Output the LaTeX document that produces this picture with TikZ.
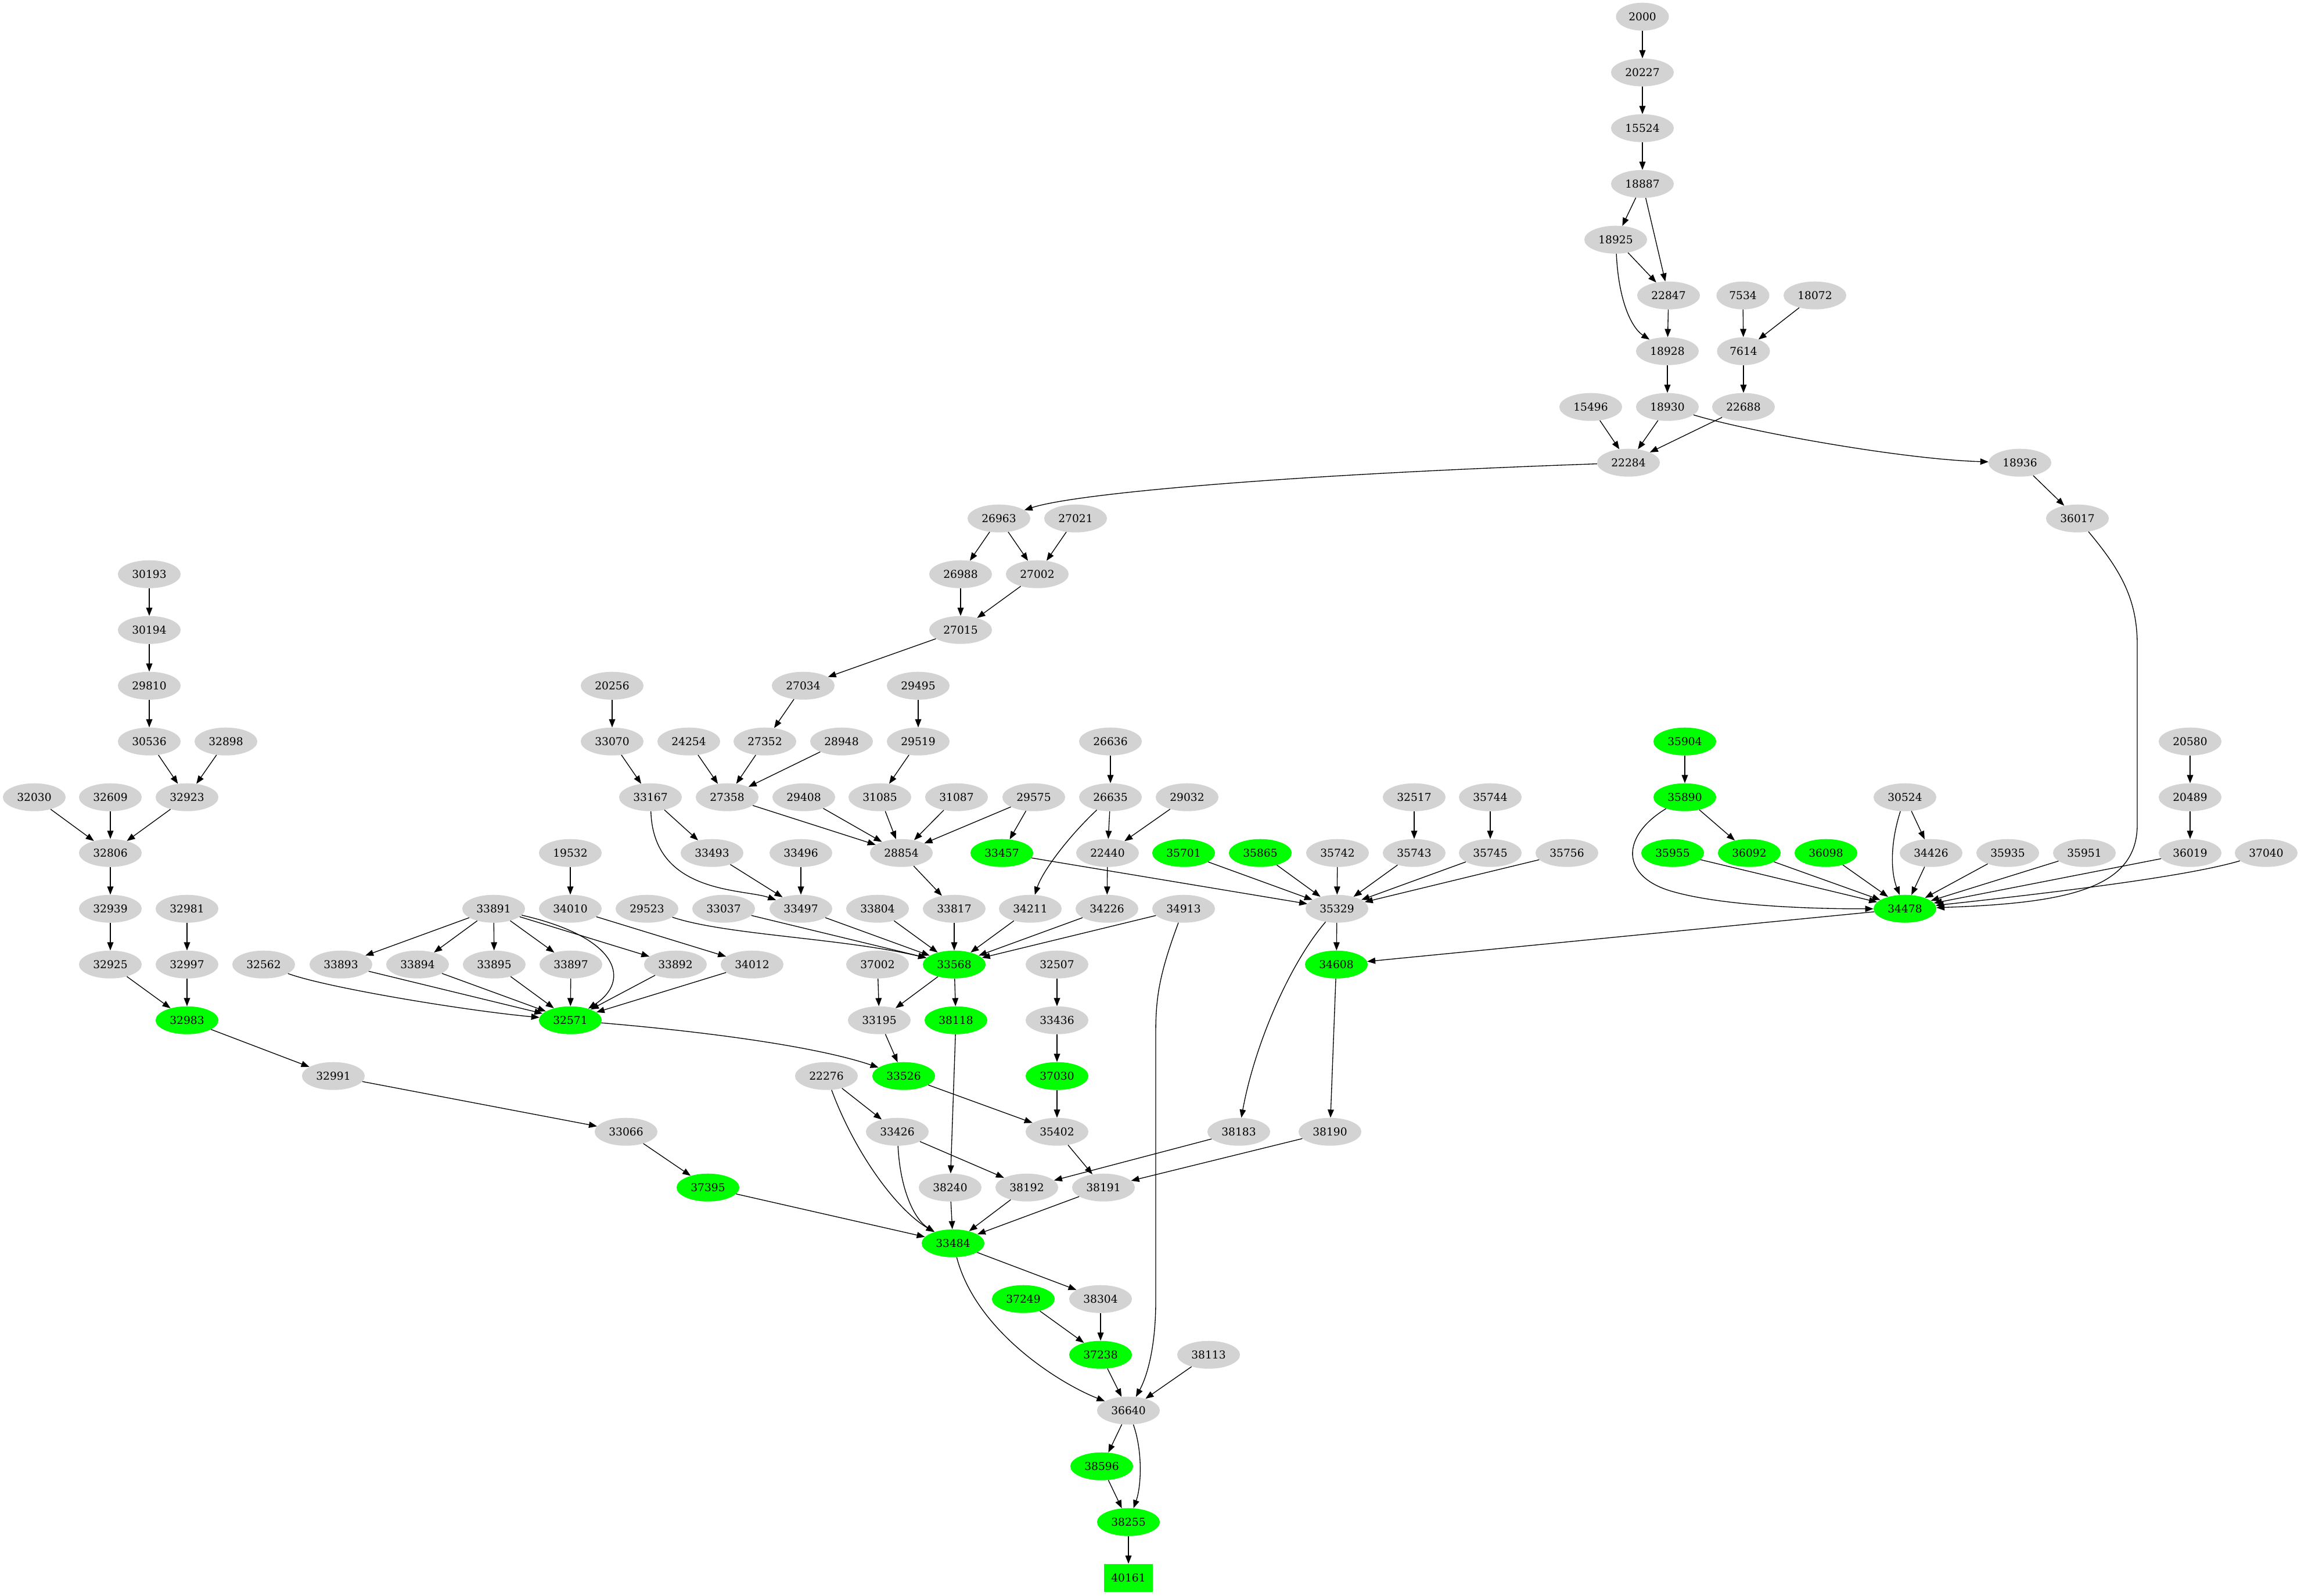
\documentclass[tikz,border=0pt]{standalone}
\usepackage{fontspec}
\setmainfont{DejaVu Serif}
\usetikzlibrary{shapes.geometric,arrows.meta}
\definecolor{nodegray}{HTML}{D3D3D3}
\definecolor{hitgreen}{HTML}{00FF00}
\tikzset{
  gnode/.style = {shape=ellipse, fill=nodegray, inner xsep=6.4pt, inner ysep=2pt,
                  minimum height=36pt, font=\fontsize{14pt}{16pt}\selectfont},
  hit/.style   = {gnode, fill=hitgreen},
  goal/.style  = {shape=rectangle, fill=hitgreen, minimum width=63pt,
                  minimum height=36pt, font=\fontsize{14pt}{16pt}\selectfont},
  dep/.style   = {-{Triangle[length=10.5pt,width=8pt]}, line width=1pt}
}

\begin{document}
\begin{tikzpicture}
 [x=0.75pt, y=-72pt]
  \useasboundingbox (0,-0.299) rectangle (3962,28.316);

  \node [gnode] (n2000) at (2828,0) {2000};
  \node [gnode] (n20227) at (2828,1) {20227};
  \node [gnode] (n15524) at (2828,2) {15524};
  \node [gnode] (n18887) at (2828,3) {18887};
  \node [gnode] (n18925) at (2782,4) {18925};
  \node [gnode] (n22847) at (2873,5) {22847};
  \node [gnode] (n7534) at (3001,5) {7534};
  \node [gnode] (n18072) at (3125,5) {18072};
  \node [gnode] (n18928) at (2871,6) {18928};
  \node [gnode] (n7614) at (3002,6) {7614};
  \node [gnode] (n15496) at (2739,7) {15496};
  \node [gnode] (n18930) at (2871,7) {18930};
  \node [gnode] (n22688) at (3002,7) {22688};
  \node [gnode] (n22284) at (2804,8) {22284};
  \node [gnode] (n18936) at (3478,8) {18936};
  \node [gnode] (n26963) at (1720,9) {26963};
  \node [gnode] (n27021) at (1852,9) {27021};
  \node [gnode] (n36017) at (3577,9) {36017};
  \node [gnode] (n30193) at (257,10) {30193};
  \node [gnode] (n26988) at (1654,10) {26988};
  \node [gnode] (n27002) at (1786,10) {27002};
  \node [gnode] (n30194) at (257,11) {30194};
  \node [gnode] (n27015) at (1654,11) {27015};
  \node [gnode] (n29810) at (257,12) {29810};
  \node [gnode] (n20256) at (1054,12) {20256};
  \node [gnode] (n27034) at (1383,12) {27034};
  \node [gnode] (n29495) at (1581,12) {29495};
  \node [gnode] (n30536) at (257,13) {30536};
  \node [gnode] (n32898) at (389,13) {32898};
  \node [gnode] (n33070) at (1054,13) {33070};
  \node [gnode] (n24254) at (1186,13) {24254};
  \node [gnode] (n27352) at (1317,13) {27352};
  \node [gnode] (n28948) at (1449,13) {28948};
  \node [gnode] (n29519) at (1581,13) {29519};
  \node [gnode] (n26636) at (1912,13) {26636};
  \node [hit]   (n35904) at (2901,13) {35904};
  \node [gnode] (n20580) at (3771,13) {20580};
  \node [gnode] (n32030) at (59,14) {32030};
  \node [gnode] (n32609) at (190,14) {32609};
  \node [gnode] (n32923) at (322,14) {32923};
  \node [gnode] (n33167) at (1120,14) {33167};
  \node [gnode] (n27358) at (1252,14) {27358};
  \node [gnode] (n29408) at (1384,14) {29408};
  \node [gnode] (n31085) at (1515,14) {31085};
  \node [gnode] (n31087) at (1647,14) {31087};
  \node [gnode] (n29575) at (1780,14) {29575};
  \node [gnode] (n26635) at (1912,14) {26635};
  \node [gnode] (n29032) at (2044,14) {29032};
  \node [gnode] (n32517) at (2435,14) {32517};
  \node [gnode] (n35744) at (2566,14) {35744};
  \node [hit]   (n35890) at (2901,14) {35890};
  \node [gnode] (n30524) at (3280,14) {30524};
  \node [gnode] (n20489) at (3771,14) {20489};
  \node [gnode] (n32806) at (190,15) {32806};
  \node [gnode] (n19532) at (982,15) {19532};
  \node [gnode] (n33493) at (1226,15) {33493};
  \node [gnode] (n33496) at (1379,15) {33496};
  \node [gnode] (n28854) at (1552,15) {28854};
  \node [hit]   (n33457) at (1725,15) {33457};
  \node [gnode] (n22440) at (1907,15) {22440};
  \node [hit]   (n35701) at (2038,15) {35701};
  \node [hit]   (n35865) at (2170,15) {35865};
  \node [gnode] (n35742) at (2303,15) {35742};
  \node [gnode] (n35743) at (2435,15) {35743};
  \node [gnode] (n35745) at (2566,15) {35745};
  \node [gnode] (n35756) at (2698,15) {35756};
  \node [hit]   (n35955) at (2880,15) {35955};
  \node [hit]   (n36092) at (3012,15) {36092};
  \node [hit]   (n36098) at (3144,15) {36098};
  \node [gnode] (n34426) at (3325,15) {34426};
  \node [gnode] (n35935) at (3457,15) {35935};
  \node [gnode] (n35951) at (3589,15) {35951};
  \node [gnode] (n36019) at (3771,15) {36019};
  \node [gnode] (n37040) at (3902,15) {37040};
  \node [gnode] (n32939) at (190,16) {32939};
  \node [gnode] (n32981) at (322,16) {32981};
  \node [gnode] (n33891) at (850,16) {33891};
  \node [gnode] (n34010) at (982,16) {34010};
  \node [gnode] (n29523) at (1114,16) {29523};
  \node [gnode] (n33037) at (1246,16) {33037};
  \node [gnode] (n33497) at (1379,16) {33497};
  \node [gnode] (n33804) at (1511,16) {33804};
  \node [gnode] (n33817) at (1643,16) {33817};
  \node [gnode] (n34211) at (1774,16) {34211};
  \node [gnode] (n34226) at (1906,16) {34226};
  \node [gnode] (n34913) at (2038,16) {34913};
  \node [gnode] (n35329) at (2302,16) {35329};
  \node [hit]   (n34478) at (3280,16) {34478};
  \node [gnode] (n32925) at (190,17) {32925};
  \node [gnode] (n32997) at (322,17) {32997};
  \node [gnode] (n32562) at (454,17) {32562};
  \node [gnode] (n33893) at (587,17) {33893};
  \node [gnode] (n33894) at (719,17) {33894};
  \node [gnode] (n33895) at (851,17) {33895};
  \node [gnode] (n33897) at (983,17) {33897};
  \node [gnode] (n33892) at (1163,17) {33892};
  \node [gnode] (n34012) at (1295,17) {34012};
  \node [gnode] (n37002) at (1511,17) {37002};
  \node [hit]   (n33568) at (1643,17) {33568};
  \node [gnode] (n32507) at (1820,17) {32507};
  \node [hit]   (n34608) at (2301,17) {34608};
  \node [hit]   (n32983) at (322,18) {32983};
  \node [hit]   (n32571) at (982,18) {32571};
  \node [gnode] (n33195) at (1514,18) {33195};
  \node [hit]   (n38118) at (1646,18) {38118};
  \node [gnode] (n33436) at (1820,18) {33436};
  \node [gnode] (n32991) at (574,19) {32991};
  \node [gnode] (n22276) at (1423,19) {22276};
  \node [hit]   (n33526) at (1556,19) {33526};
  \node [hit]   (n37030) at (1820,19) {37030};
  \node [gnode] (n33066) at (1078,20) {33066};
  \node [gnode] (n33426) at (1545,20) {33426};
  \node [gnode] (n35402) at (1820,20) {35402};
  \node [gnode] (n38183) at (2133,20) {38183};
  \node [gnode] (n38190) at (2290,20) {38190};
  \node [hit]   (n37395) at (1219,21) {37395};
  \node [gnode] (n38240) at (1636,21) {38240};
  \node [gnode] (n38192) at (1768,21) {38192};
  \node [gnode] (n38191) at (1900,21) {38191};
  \node [hit]   (n33484) at (1641,22) {33484};
  \node [hit]   (n37249) at (1762,23) {37249};
  \node [gnode] (n38304) at (1895,23) {38304};
  \node [hit]   (n37238) at (1895,24) {37238};
  \node [gnode] (n38113) at (2081,24) {38113};
  \node [gnode] (n36640) at (1943,25) {36640};
  \node [hit]   (n38596) at (1897,26) {38596};
  \node [hit]   (n38255) at (1943,27) {38255};
  \node [goal]  (n40161) at (1943,28) {40161};

  \path [dep] (n2000) edge (n20227) (n20227) edge (n15524) (n15524) edge (n18887)
    (n18887) edge (n18925) edge (n22847) (n18925) edge (n22847) (n22847) edge (n18928)
    (n7534) edge (n7614) (n18072) edge (n7614) (n18928) edge (n18930) (n7614) edge (n22688)
    (n15496) edge (n22284) (n18930) edge (n22284) (n22688) edge (n22284)
    (n18936) edge (n36017);
  \path [dep] (n26963) edge (n26988) edge (n27002) (n27021) edge (n27002)
    (n26988) edge (n27015) (n27002) edge (n27015) (n27015) edge (n27034)
    (n27034) edge (n27352) (n27352) edge (n27358) (n24254) edge (n27358) (n28948) edge (n27358)
    (n20256) edge (n33070) (n33070) edge (n33167) (n29495) edge (n29519) (n29519) edge (n31085)
    (n26636) edge (n26635);
  \path [dep] (n30193) edge (n30194) (n30194) edge (n29810) (n29810) edge (n30536)
    (n30536) edge (n32923) (n32898) edge (n32923)
    (n32030) edge (n32806) (n32609) edge (n32806) (n32923) edge (n32806)
    (n32806) edge (n32939) (n32939) edge (n32925) (n32981) edge (n32997)
    (n32925) edge (n32983) (n32997) edge (n32983) (n32983) edge (n32991)
    (n32991) edge (n33066) (n33066) edge (n37395) (n37395) edge (n33484);
  \path [dep] (n27358) edge (n28854) (n29408) edge (n28854) (n31085) edge (n28854)
    (n31087) edge (n28854) (n29575) edge (n28854) edge (n33457)
    (n26635) edge (n22440) (n29032) edge (n22440)
    (n33167) edge (n33493) (n33493) edge (n33497) (n33496) edge (n33497)
    (n28854) edge (n33817) (n22440) edge (n34226);
  \path [dep] (n33457) edge (n35329) (n35701) edge (n35329) (n35865) edge (n35329)
    (n35742) edge (n35329) (n35743) edge (n35329) (n35745) edge (n35329) (n35756) edge (n35329)
    (n32517) edge (n35743) (n35744) edge (n35745);
  \path [dep] (n35904) edge (n35890) (n35890) edge (n36092)
    (n35955) edge (n34478) (n36092) edge (n34478) (n36098) edge (n34478)
    (n30524) edge (n34426) (n34426) edge (n34478) (n35935) edge (n34478)
    (n35951) edge (n34478) (n36019) edge (n34478)
    (n20580) edge (n20489) (n20489) edge (n36019) (n34478) edge (n34608);
  \path [dep] (n19532) edge (n34010) (n34010) edge (n34012)
    (n33891) edge (n33893) edge (n33894) edge (n33895) edge (n33897) edge (n33892)
    (n33893) edge (n32571) (n33894) edge (n32571) (n33895) edge (n32571)
    (n33897) edge (n32571) (n33892) edge (n32571) (n34012) edge (n32571);
  \path [dep] (n33037) edge (n33568) (n33497) edge (n33568) (n33804) edge (n33568)
    (n33817) edge (n33568) (n34211) edge (n33568) (n34226) edge (n33568) (n34913) edge (n33568)
    (n35329) edge (n34608) (n34608) edge (n38190)
    (n37002) edge (n33195) (n33568) edge (n33195) edge (n38118)
    (n32507) edge (n33436) (n33436) edge (n37030) (n37030) edge (n35402)
    (n33195) edge (n33526) (n33526) edge (n35402);
  \path [dep] (n22276) edge (n33426) (n33426) edge (n38192) (n38118) edge (n38240)
    (n38183) edge (n38192) (n35402) edge (n38191) (n38190) edge (n38191)
    (n38240) edge (n33484) (n38192) edge (n33484) (n38191) edge (n33484)
    (n33484) edge (n38304) (n37249) edge (n37238) (n38304) edge (n37238)
    (n37238) edge (n36640) (n38113) edge (n36640)
    (n36640) edge (n38596) (n38596) edge (n38255) (n38255) edge (n40161);

  \draw [dep] (n18925) .. controls (2787,5.118) and (2810,5.586) .. (n18928);
  \draw [dep] (n18930) .. controls (3010,7.44) and (3275,7.94) .. (n18936);
  \draw [dep] (n22284) .. controls (2200,8.222) and (1850,8.555) .. (n26963);
  \draw [dep] (n36017) .. controls (3650,9.909) and (3680,10.43) .. (3680,11.264)
    -- (3680,14.493) .. controls (3680,15.639) and (3560,15.899) .. (n34478);
  \draw [dep] (n26635) .. controls (1840,14.701) and (1795,15.326) .. (n34211);
  \draw [dep] (n33167) .. controls (1125,15.742) and (1280,15.638) .. (n33497);
  \draw [dep] (n35890) .. controls (2790,14.701) and (2790,15.43) .. (2880,15.691)
    .. controls (2960,15.93) and (3100,16.003) .. (n34478);
  \draw [dep] (n30524) .. controls (3255,14.805) and (3255,15.326) .. (n34478);
  \draw [dep] (n37040) .. controls (3780,15.378) and (3600,15.639) .. (n34478);
  \draw [dep] (n33891) .. controls (1070,16.524) and (1085,17.305) .. (n32571);
  \draw [dep] (n29523) .. controls (1250,16.472) and (1450,16.524) .. (n33568);
  \draw [dep] (n32562) .. controls (560,17.41) and (800,17.826) .. (n32571);
  \draw [dep] (n34913) .. controls (1995,17.2) and (1990,17.618) .. (1990,18.243)
    -- (1990,23.034) .. controls (1990,23.868) and (1975,24.389) .. (n36640);
  \draw [dep] (n35329) .. controls (2220,16.99) and (2160,18.45) .. (n38183);
  \draw [dep] (n32571) .. controls (1200,18.191) and (1400,18.451) .. (n33526);
  \draw [dep] (n22276) .. controls (1470,20.326) and (1540,21.368) .. (n33484);
  \draw [dep] (n33426) .. controls (1550,21.055) and (1575,21.576) .. (n33484);
  \draw [dep] (n33484) .. controls (1680,23.555) and (1820,24.492) .. (n36640);
  \draw [dep] (n36640) .. controls (1968,25.743) and (1965,26.368) .. (n38255);
\end{tikzpicture}
\end{document}
